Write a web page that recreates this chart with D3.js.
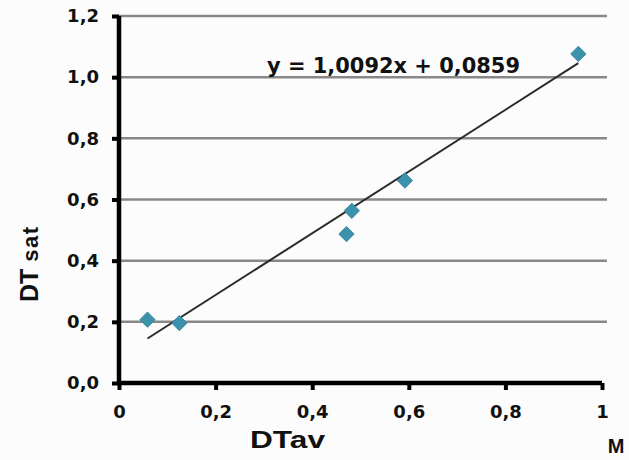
<!DOCTYPE html>
<html>
<head>
<meta charset="utf-8">
<script src="https://cdn.jsdelivr.net/npm/d3@7"></script>
<style>
  body { margin: 0; background: #fcfcfc; }
  text { font-family: "DejaVu Sans", sans-serif; font-weight: bold; fill: #111; }
  .title { font-family: "Liberation Sans", Arial, sans-serif; }
</style>
</head>
<body>
<div class="viewbox"></div>
<script>
  // values
  const dtAv  = [0.059, 0.125, 0.471, 0.482, 0.592, 0.951];
  const dtSat = [0.207, 0.196, 0.487, 0.563, 0.662, 1.076];
  const slope = 1.0092;
  const intercept = 0.0859;
  const xTicks = [0, 0.2, 0.4, 0.6, 0.8, 1];
  const yTicks = [0, 0.2, 0.4, 0.6, 0.8, 1.0, 1.2];

  const svg_width = 629;
  const svg_height = 460;

  let svg = d3.select(".viewbox")
    .append("svg")
    .attr("width", svg_width)
    .attr("height", svg_height)

  let x = d3.scaleLinear().domain([0, 1]).range([119, 602])
  let y = d3.scaleLinear().domain([0, 1.2]).range([383, 16])

  const fmt = d => d3.format(".1f")(d).replace(".", ",")

  // horizontal gridlines
  svg.append("g")
    .selectAll("line")
    .data(yTicks.filter(d => d > 0))
    .enter()
    .append("line")
    .attr("x1", x(0))
    .attr("x2", 607)
    .attr("y1", d => y(d))
    .attr("y2", d => y(d))
    .attr("stroke", "#888")
    .attr("stroke-width", 2.5)

  // y axis
  let yAxis = svg.append("g")
    .attr("transform", `translate(${x(0)},0)`)
    .call(d3.axisLeft(y).tickValues(yTicks).tickSize(7).tickPadding(13).tickFormat(fmt))
  yAxis.select(".domain").attr("stroke", "#000").attr("stroke-width", 4.5)
    .attr("d", `M0,${y(1.2)}V${y(0) + 2}`)
  yAxis.selectAll(".tick line").attr("stroke", "#000").attr("stroke-width", 4)
  yAxis.selectAll(".tick text").style("font-size", "18px").attr("fill", "#111")

  // x axis
  let xAxis = svg.append("g")
    .attr("transform", `translate(0,${y(0)})`)
    .call(d3.axisBottom(x).tickValues(xTicks).tickSize(7).tickPadding(14)
      .tickFormat(d => d === 0 ? "0" : d === 1 ? "1" : fmt(d)))
  xAxis.select(".domain").attr("stroke", "#000").attr("stroke-width", 4.5)
    .attr("d", `M${x(0) - 2},0H${x(1)}`)
  xAxis.selectAll(".tick line").attr("stroke", "#000").attr("stroke-width", 4)
  xAxis.selectAll(".tick text").style("font-size", "18px").attr("fill", "#111")
    .attr("dy", null).attr("y", 35)

  // trend line
  const xMin = d3.min(dtAv), xMax = d3.max(dtAv);
  svg.append("line")
    .attr("x1", x(xMin))
    .attr("y1", y(slope * xMin + intercept))
    .attr("x2", x(xMax))
    .attr("y2", y(slope * xMax + intercept))
    .attr("stroke", "#2b2b2b")
    .attr("stroke-width", 2)

  // points
  let sym = d3.symbol().type(d3.symbolSquare).size(118)
  svg.append("g")
    .selectAll("path")
    .data(dtAv.map((d, i) => [d, dtSat[i]]))
    .enter()
    .append("path")
    .attr("d", sym)
    .attr("transform", d => `translate(${x(d[0])},${y(d[1])}) rotate(45)`)
    .attr("fill", "#3a93aa")
    .attr("stroke", "#2f8098")
    .attr("stroke-width", 0.8)

  // equation
  svg.append("text")
    .attr("x", 267)
    .attr("y", 73)
    .style("font-size", "21px")
    .attr("textLength", 253)
    .attr("lengthAdjust", "spacingAndGlyphs")
    .text("y = " + String(slope).replace(".", ",") + "x + " + String(intercept).replace(".", ","))

  // axis titles
  svg.append("text")
    .attr("class", "title")
    .attr("x", 250)
    .attr("y", 448)
    .style("font-size", "23px")
    .attr("textLength", 75)
    .attr("lengthAdjust", "spacingAndGlyphs")
    .text("DTav")

  svg.append("text")
    .attr("class", "title")
    .attr("x", 616)
    .attr("y", 453)
    .attr("text-anchor", "middle")
    .style("font-size", "20px")
    .text("M")

  let yl = svg.append("text")
    .attr("class", "title")
    .attr("transform", "translate(38,302) rotate(-90)")
    .style("font-size", "25px")
  yl.append("tspan").text("DT ")
  yl.append("tspan").style("font-size", "22px").style("letter-spacing", "1.5px").text("sat")
</script>
</body>
</html>
